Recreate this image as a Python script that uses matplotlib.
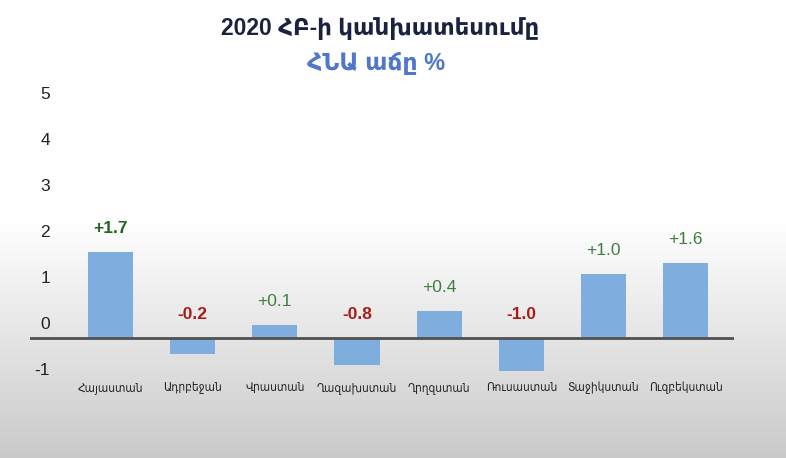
import numpy as np
import matplotlib
matplotlib.use("Agg")
import matplotlib.pyplot as plt

plt.rcParams['font.family'] = ['Liberation Sans', 'DejaVu Sans']

# Երկրներ և տվյալներ (սյուների բարձրությունները ըստ նկարի, պիտակները՝ ըստ տեքստի)
erkrner = ['Հայաստան', 'Ադրբեջան', 'Վրաստան', 'Ղազախստան',
           'Ղրղզստան', 'Ռուսաստան', 'Տաջիկստան', 'Ուզբեկստան']
syun_bardz = [1.87, -0.35, 0.28, -0.59, 0.58, -0.72, 1.39, 1.63]
pitakner = ['+1.7', '-0.2', '+0.1', '-0.8', '+0.4', '-1.0', '+1.0', '+1.6']
y_tick_labels = ['-1', '0', '1', '2', '3', '4', '5']

fig = plt.figure(figsize=(7.86, 4.58), dpi=100)

# ֆոն՝ սպիտակից դեպի մոխրագույն
bg = fig.add_axes([0, 0, 1, 1], zorder=-5)
rows = np.linspace(0, 1, 458)
vals = np.where(rows < 0.48, 1.0, 1.0 - (rows - 0.48) / 0.52 * 0.21)
img = np.tile(vals[:, None], (1, 786))
bg.imshow(img, cmap='gray', vmin=0, vmax=1, aspect='auto')
bg.axis('off')

ax = fig.add_axes([30 / 786, 1 - 384 / 458, 704 / 786, (384 - 80.4) / 458])
ax.patch.set_alpha(0)

x = np.arange(len(erkrner))
ax.bar(x, syun_bardz, width=0.55, color='#7fadde', zorder=2)
ax.axhline(0, color='#505050', lw=2, zorder=3)

for i, (h, t) in enumerate(zip(syun_bardz, pitakner)):
    if t.startswith('-'):
        col, fw, base = '#a81c1c', 'bold', 0
    elif i == 0:
        col, fw, base = '#1d6620', 'bold', h
    else:
        col, fw, base = '#3e7f3e', 'normal', h
    ax.annotate(t, xy=(i, base), xytext=(0, 17), textcoords='offset points',
                ha='center', va='center', color=col, fontsize=12.5, fontweight=fw)

ax.set_xlim(-0.98, 7.59)
ax.set_ylim(-1.0, 5.6)
ax.set_yticks(np.arange(-1, 6) + 0.326, y_tick_labels)
ax.tick_params(axis='y', length=0, pad=-14.5, labelsize=12.5, labelcolor='#222222')
ax.set_xticks(x, erkrner)
ax.tick_params(axis='x', length=0, pad=-2, labelcolor='#222222')
for lab in ax.get_xticklabels():
    lab.set_fontfamily('DejaVu Sans')
    lab.set_fontstretch('condensed')
    lab.set_fontsize(8.6)
for s in ax.spines.values():
    s.set_visible(False)

fig.text(0.483, 1 - 28 / 458, '2020 ՀԲ-ի կանխատեսումը', ha='center', va='center',
         fontsize=16.5, fontweight='bold', color='#1b2241')
fig.text(0.478, 1 - 63 / 458, 'ՀՆԱ աճը %', ha='center', va='center',
         fontsize=17, fontweight='bold', color='#4f78c8')

fig.savefig('out.png', dpi=100)
